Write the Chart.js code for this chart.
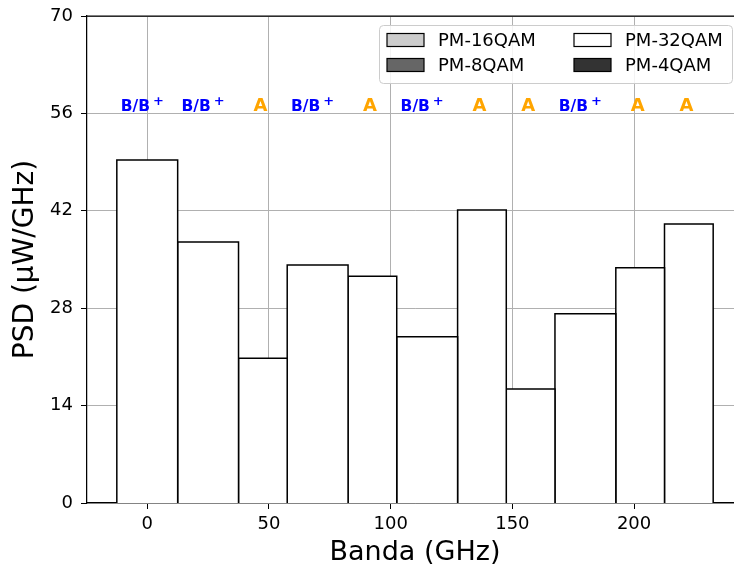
<!DOCTYPE html>
<html>
<head>
<meta charset="utf-8">
<script src="https://cdn.jsdelivr.net/npm/chart.js@4"></script>
<style>
  html, body { margin: 0; padding: 0; overflow: hidden; background: #fff; }
  #wrap { width: 744px; height: 572px; }
</style>
</head>
<body>
<div id="wrap"><canvas id="psd" width="744" height="572"></canvas></div>
<script>
// dati
const binStart = [-12.5, 12.5, 37.5, 57.5, 82.5, 102.5, 127.5, 147.5, 167.5, 192.5, 212.5];
const binEnd   = [12.5, 37.5, 57.5, 82.5, 102.5, 127.5, 147.5, 167.5, 192.5, 212.5, 232.5];
const psd      = [49.3, 37.5, 20.8, 34.2, 32.6, 23.9, 42.1, 16.4, 27.2, 33.8, 40.1];
const classe   = ['B/B+', 'B/B+', 'A', 'B/B+', 'A', 'B/B+', 'A', 'A', 'B/B+', 'A', 'A'];
const formato  = ['PM-32QAM', 'PM-32QAM', 'PM-32QAM', 'PM-32QAM', 'PM-32QAM', 'PM-32QAM',
                  'PM-32QAM', 'PM-32QAM', 'PM-32QAM', 'PM-32QAM', 'PM-32QAM'];

const xTicks = [0, 50, 100, 150, 200];
const yTicks = [0, 14, 28, 42, 56, 70];

const legendNames  = ['PM-16QAM', 'PM-8QAM', 'PM-32QAM', 'PM-4QAM'];
const legendColors = ['#cccccc', '#666666', '#ffffff', '#333333'];

const labelLevel = 56.3;
const FONT = 'DejaVu Sans';

const fillFor = name => legendColors[legendNames.indexOf(name)];

const datasets = psd.map((h, i) => ({
    label: formato[i],
    data: [
        { x: binStart[i], y: 0 },
        { x: binStart[i], y: h },
        { x: binEnd[i], y: h },
        { x: binEnd[i], y: 0 }
    ],
    showLine: true,
    fill: 'origin',
    backgroundColor: fillFor(formato[i]),
    borderColor: '#000',
    borderWidth: 1.5,
    pointRadius: 0,
    tension: 0
}));

// etichette B/B+ e A sopra le barre
const classLabels = {
    id: 'classLabels',
    afterDatasetsDraw(chart) {
        const { ctx, scales: { x, y } } = chart;
        ctx.save();
        ctx.textBaseline = 'alphabetic';
        psd.forEach((h, i) => {
            const cx = x.getPixelForValue((binStart[i] + binEnd[i]) / 2);
            const cy = y.getPixelForValue(labelLevel);
            if (classe[i] === 'A') {
                ctx.font = 'bold 18px ' + FONT;
                ctx.fillStyle = '#ffa500';
                ctx.textAlign = 'center';
                ctx.fillText('A', cx - 2.5, cy);
            } else {
                ctx.fillStyle = '#0000ff';
                ctx.textAlign = 'left';
                ctx.font = 'bold 15.5px ' + FONT;
                const base = 'B/B';
                const wb = ctx.measureText(base).width;
                ctx.font = 'bold 13px ' + FONT;
                const wp = ctx.measureText('+').width;
                const x0 = cx - (wb + 3 + wp) / 2 - 5;
                ctx.font = 'bold 15.5px ' + FONT;
                ctx.fillText(base, x0, cy);
                ctx.font = 'bold 13px ' + FONT;
                ctx.fillText('+', x0 + wb + 3, cy - 6);
            }
        });
        ctx.restore();
    }
};

// legenda a due colonne dentro l'area del grafico + bordo superiore
const boxLegend = {
    id: 'boxLegend',
    afterDraw(chart) {
        const { ctx, chartArea } = chart;
        ctx.save();
        ctx.strokeStyle = '#000';
        ctx.lineWidth = 1.25;
        ctx.beginPath();
        ctx.moveTo(chartArea.left, chartArea.top);
        ctx.lineTo(chartArea.right, chartArea.top);
        ctx.stroke();

        const bx = 379.5, by = 25.5, bw = 353, bh = 58;
        ctx.beginPath();
        ctx.roundRect(bx, by, bw, bh, 4);
        ctx.fillStyle = 'rgba(255,255,255,0.85)';
        ctx.fill();
        ctx.strokeStyle = '#cccccc';
        ctx.lineWidth = 1;
        ctx.stroke();

        const colX = [387, 574];
        const rowY = [40, 65];
        ctx.font = '18px ' + FONT;
        ctx.textBaseline = 'middle';
        ctx.textAlign = 'left';
        legendNames.forEach((name, i) => {
            const px = colX[Math.floor(i / 2)];
            const py = rowY[i % 2];
            ctx.fillStyle = legendColors[i];
            ctx.fillRect(px, py - 6.5, 37, 13);
            ctx.strokeStyle = '#000';
            ctx.lineWidth = 1.2;
            ctx.strokeRect(px, py - 6.5, 37, 13);
            ctx.fillStyle = '#000';
            ctx.fillText(name, px + 51, py + 1);
        });
        ctx.restore();
    }
};

new Chart(document.getElementById('psd'), {
    type: 'scatter',
    data: { datasets },
    options: {
        responsive: false,
        animation: false,
        devicePixelRatio: 1,
        layout: { padding: { top: 16, right: 1, left: 0, bottom: 0 } },
        plugins: {
            legend: { display: false },
            tooltip: { enabled: false }
        },
        scales: {
            x: {
                type: 'linear',
                min: -24.75,
                max: 244.75,
                z: 1,
                afterFit: s => { s.height = 69; s.paddingLeft = 0; s.paddingRight = 0; },
                afterBuildTicks: s => { s.ticks = xTicks.map(v => ({ value: v })); },
                grid: { color: '#b0b0b0', lineWidth: 1, tickColor: '#000', tickLength: 6 },
                border: { color: '#000', width: 1.25 },
                ticks: { color: '#000', font: { family: FONT, size: 18 }, padding: 5 },
                title: {
                    display: true,
                    text: 'Banda (GHz)',
                    color: '#000',
                    font: { family: FONT, size: 27 },
                    padding: { top: 0, bottom: 3 }
                }
            },
            y: {
                min: 0,
                max: 70,
                z: 1,
                afterFit: s => { s.width = 87; s.paddingTop = 0; s.paddingBottom = 0; },
                afterBuildTicks: s => { s.ticks = yTicks.map(v => ({ value: v })); },
                grid: { color: '#b0b0b0', lineWidth: 1, tickColor: '#000', tickLength: 6 },
                border: { color: '#000', width: 1.25 },
                ticks: { color: '#000', font: { family: FONT, size: 18 }, padding: 8 },
                title: {
                    display: true,
                    text: 'PSD (\u03bcW/GHz)',
                    color: '#000',
                    font: { family: FONT, size: 28 },
                    padding: { top: 9, bottom: 0 }
                }
            }
        }
    },
    plugins: [classLabels, boxLegend]
});
</script>
</body>
</html>
